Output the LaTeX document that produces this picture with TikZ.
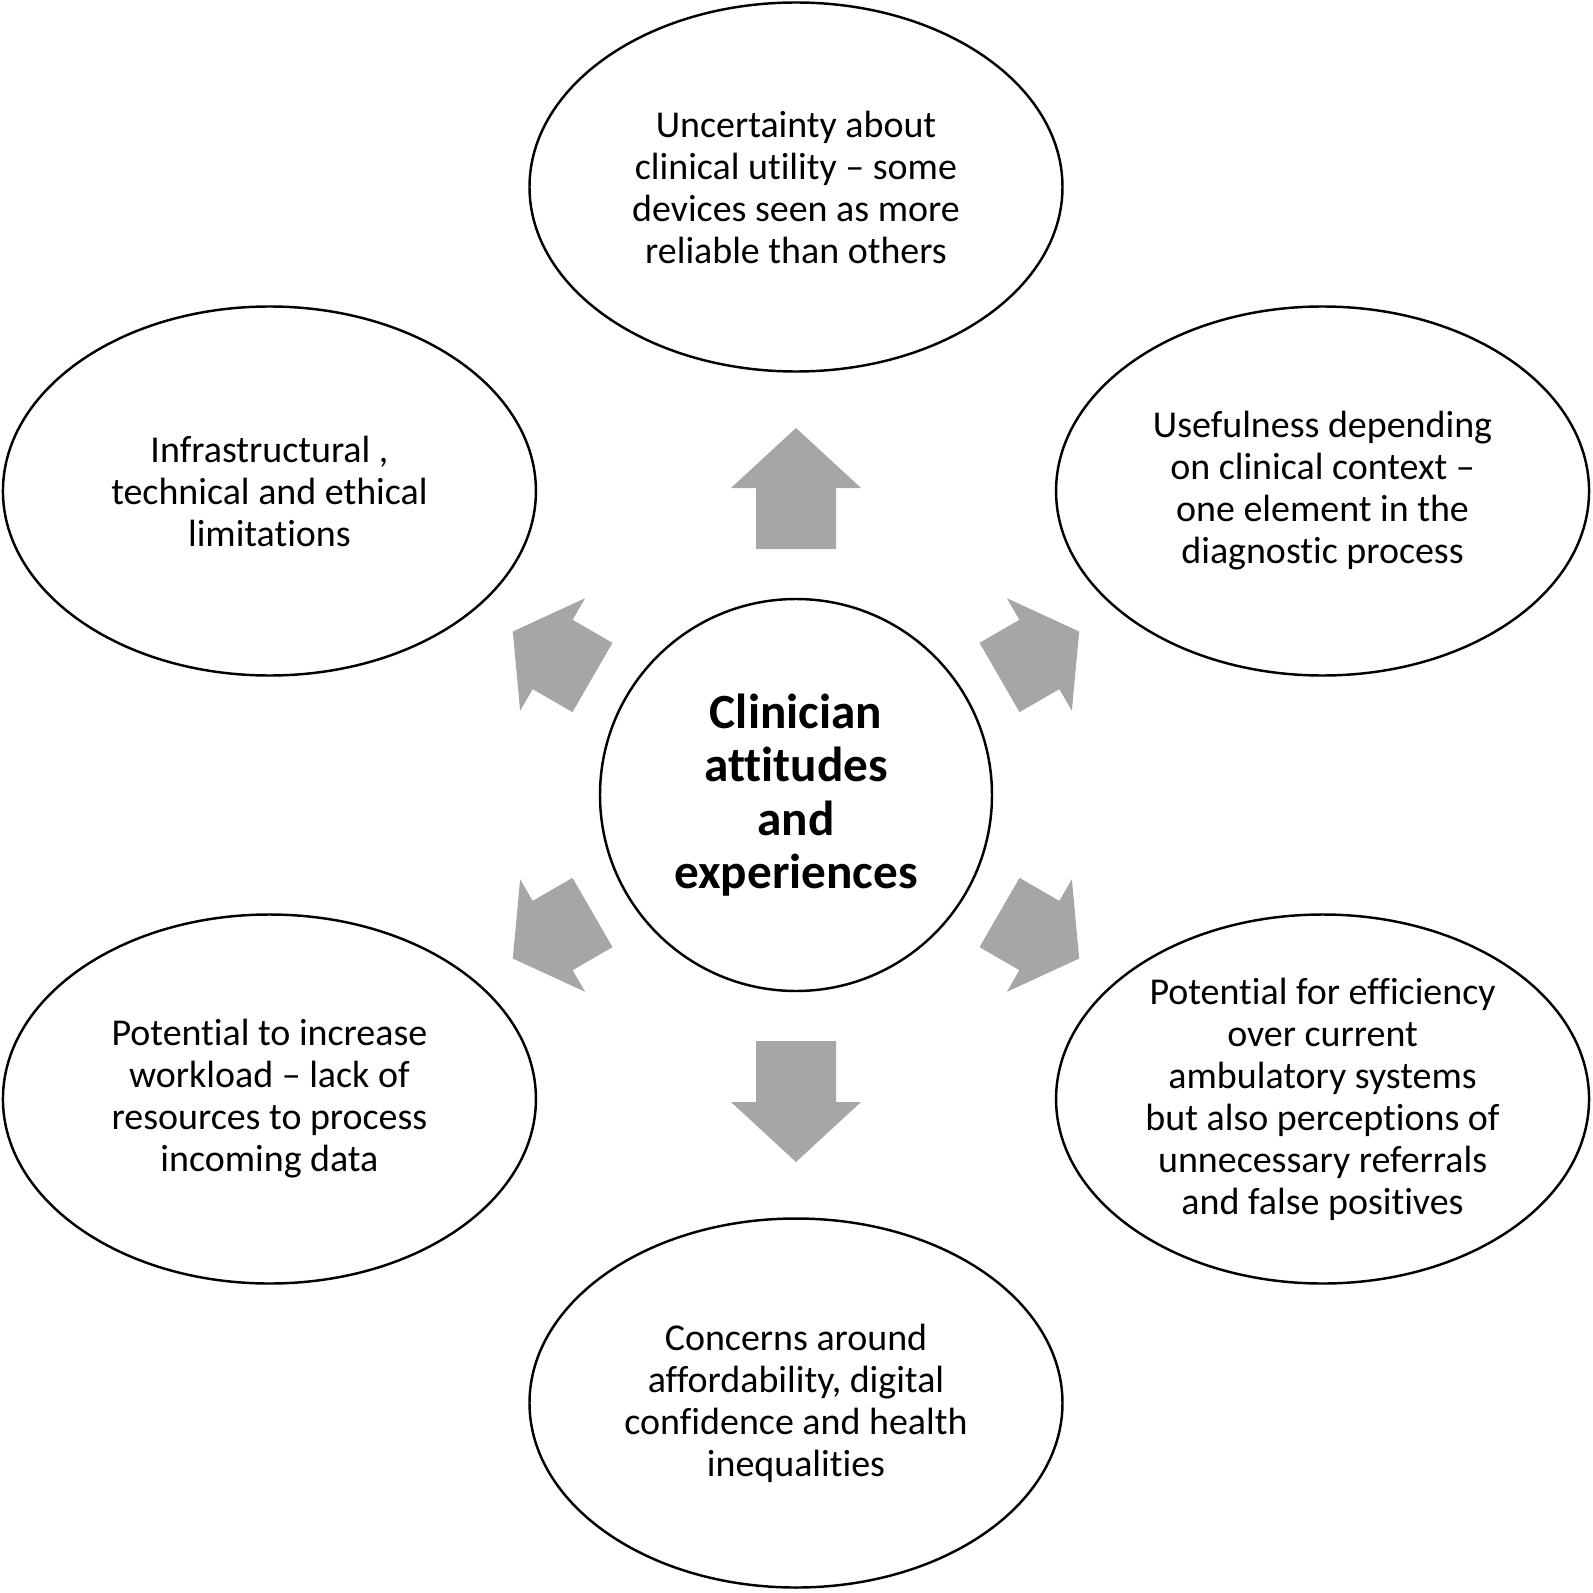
\documentclass[tikz,border=0pt]{standalone}
\usepackage{fontspec}
\setmainfont{Carlito}[Ligatures={TeX,NoCommon}]
\usetikzlibrary{shapes.geometric}
\definecolor{tline}{HTML}{000000}
\definecolor{tarrow}{HTML}{A6A6A6}
\tikzset{
  themebox/.style={ellipse, draw=tline, line width=0.7pt, minimum width=53.3mm,
                   minimum height=36.9mm, inner sep=0pt, align=center,
                   font=\fontsize{10.8}{11.95}\selectfont},
  hubbox/.style={circle, draw=tline, line width=0.7pt, minimum size=39.2mm,
                 inner sep=0pt, align=center, font=\fontsize{14}{15.2}\selectfont\bfseries},
  blockarr/.style={fill=tarrow},
}
% block arrow: angle, tail distance, shaft length, head length
\newcommand{\blockarrow}[4]{%
  \fill[blockarr, shift={(hub.center)}, rotate=#1]
    (#2,-40) -- ++(#3,0) -- ++(0,-25) -- ++(#4,65) -- ++(-#4,65)
    -- ++(0,-25) -- ++(-#3,0) -- cycle;}

\begin{document}
\begin{tikzpicture}[x=0.1mm, y=0.1mm]
  \useasboundingbox (-796,-797) rectangle (797,795);

  \node[hubbox] (hub) at (0,0) {Clinician\\attitudes\\and\\experiences};

  \node[themebox] (utility) at (90:608) {Uncertainty about\\clinical utility – some\\devices seen as more\\reliable than others};
  \node[themebox] (context) at (30:608) {Usefulness depending\\on clinical context –\\one element in the\\diagnostic process};
  \node[themebox] (efficiency) at (-30:608) {Potential for efficiency\\over current\\ambulatory systems\\but also perceptions of\\unnecessary referrals\\and false positives};
  \node[themebox] (equity) at (-90:608) {Concerns around\\affordability, digital\\confidence and health\\inequalities};
  \node[themebox] (workload) at (-150:608) {Potential to increase\\workload – lack of\\resources to process\\incoming data};
  \node[themebox] (limits) at (150:608) {Infrastructural ,\\technical and ethical\\limitations};

  \blockarrow{90}{246}{61}{60}
  \blockarrow{-90}{246}{61}{60}
  \blockarrow{30}{235}{46}{46}
  \blockarrow{150}{235}{46}{46}
  \blockarrow{-30}{235}{46}{46}
  \blockarrow{-150}{235}{46}{46}
\end{tikzpicture}
\end{document}
